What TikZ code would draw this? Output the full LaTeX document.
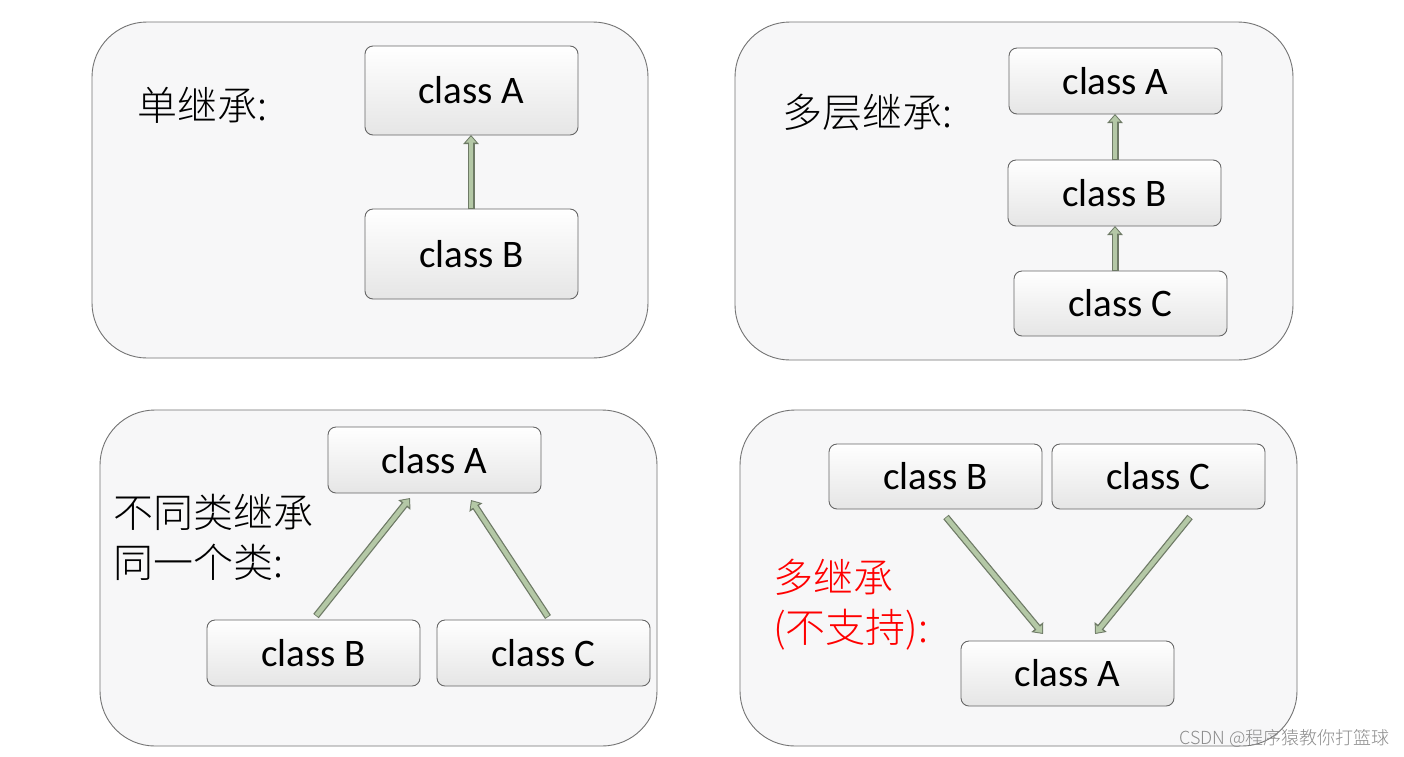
\documentclass[tikz,border=0pt]{standalone}
\usepackage{fontspec}
\setmainfont{Carlito}
\newfontfamily\cjk{Noto Sans CJK SC Light}
\usetikzlibrary{arrows.meta}
\definecolor{panelfill}{HTML}{F7F7F8}
\definecolor{arrdark}{HTML}{6E7A66}
\definecolor{arrgreen}{HTML}{B4C8A6}
\tikzset{
 panel/.style={draw=black!55, line width=0.9pt, fill=panelfill, rounded corners=55pt},
 cbox/.style={draw=black!60, line width=0.9pt, rounded corners=8pt, top color=white, bottom color=black!10},
 ctext/.style={font=\fontsize{39}{39}\selectfont},
 lbl/.style={anchor=west, font=\cjk\fontsize{40}{50}\selectfont, align=left, inner sep=0pt},
 arrout/.style={line width=7pt, draw=arrdark, -{Triangle[length=9pt,width=15pt]}},
 arrin/.style={line width=4.5pt, draw=arrgreen, -{Triangle[length=6pt,width=10pt]}, shorten >=1.5pt, shorten <=0.8pt},
}
\newcommand\blockarrow[2]{\draw[arrout] (#1) -- (#2); \draw[arrin] (#1) -- (#2);}
\begin{document}
\begin{tikzpicture}[x=1pt,y=-1pt]
\path[use as bounding box, fill=white] (0,0) rectangle (1404,756);
\draw[panel] (92,22) rectangle (648,358);
\draw[panel] (735,22) rectangle (1293,360);
\draw[panel] (100,410) rectangle (657,746);
\draw[panel] (740,410) rectangle (1297,746);
% panel 1
\path[cbox] (365,46) rectangle (578,135); \node[ctext] (a1) at (471.5,90.5) {class A};
\path[cbox] (365,209) rectangle (578,299); \node[ctext] (b1) at (471.5,254) {class B};
\coordinate (a1s) at (471,135); \coordinate (b1n) at (471,209);
\blockarrow{b1n}{a1s}
\node[lbl] (t1) at (137,105) {单继承:};
% panel 2
\path[cbox] (1009,48) rectangle (1222,114); \node[ctext] (a2) at (1115.5,81) {class A};
\path[cbox] (1008,160) rectangle (1221,226); \node[ctext] (b2) at (1114.5,193) {class B};
\path[cbox] (1014,271) rectangle (1227,336); \node[ctext] (c2) at (1120.5,303.5) {class C};
\coordinate (a2s) at (1115,114); \coordinate (b2n) at (1115,160);
\coordinate (b2s) at (1115,226); \coordinate (c2n) at (1115,271);
\blockarrow{b2n}{a2s}
\blockarrow{c2n}{b2s}
\node[lbl] (t2) at (782,112) {多层继承:};
% panel 3
\path[cbox] (328,427) rectangle (541,493); \node[ctext] (a3) at (434.5,460) {class A};
\path[cbox] (207,620) rectangle (420,686); \node[ctext] (b3) at (313.5,653) {class B};
\path[cbox] (437,620) rectangle (650,686); \node[ctext] (c3) at (543.5,653) {class C};
\coordinate (p3a) at (316,616); \coordinate (p3b) at (410,498);
\coordinate (p3c) at (548,617); \coordinate (p3d) at (471,500);
\blockarrow{p3a}{p3b}
\blockarrow{p3c}{p3d}
\node[lbl] (t3) at (113,537) {不同类继承\\同一个类:};
% panel 4
\path[cbox] (829,444) rectangle (1042,509); \node[ctext] (b4) at (935.5,476.5) {class B};
\path[cbox] (1052,444) rectangle (1265,509); \node[ctext] (c4) at (1158.5,476.5) {class C};
\path[cbox] (961,641) rectangle (1174,706); \node[ctext] (a4) at (1067.5,673.5) {class A};
\coordinate (p4a) at (946,517); \coordinate (p4b) at (1043,634);
\coordinate (p4c) at (1190,517); \coordinate (p4d) at (1095,634);
\blockarrow{p4a}{p4b}
\blockarrow{p4c}{p4d}
\node[lbl, text=red] (t4) at (773,605) {多继承\\(不支持):};
\node[anchor=east, text=black!45, font=\cjk\fontsize{18}{18}\selectfont, inner sep=0pt] (wm) at (1390,738) {CSDN @程序猿教你打篮球};
\end{tikzpicture}
\end{document}
